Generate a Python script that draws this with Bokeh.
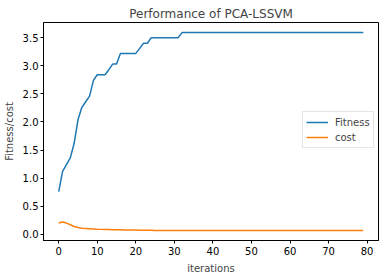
from bokeh.plotting import figure
from bokeh.models import FixedTicker, PrintfTickFormatter, Range1d, Legend, LegendItem
from bokeh.embed import file_html
from bokeh.resources import INLINE

iterations = list(range(80))
fitness = [0.76, 1.12, 1.24, 1.36, 1.62, 2.04, 2.26, 2.36, 2.46, 2.74,
           2.84, 2.84, 2.84, 2.93, 3.03, 3.03, 3.22, 3.22, 3.22, 3.22,
           3.22, 3.31, 3.40, 3.40, 3.50, 3.50, 3.50, 3.50, 3.50, 3.50,
           3.50, 3.50] + [3.59] * 48
cost = [0.20, 0.22, 0.20, 0.17, 0.14, 0.12, 0.11, 0.105, 0.10, 0.095,
        0.09, 0.088, 0.086, 0.085, 0.083, 0.082, 0.08, 0.078, 0.077, 0.076,
        0.075, 0.074, 0.073, 0.072, 0.071] + [0.07] * 55
x_ticks = [0, 10, 20, 30, 40, 50, 60, 70, 80]
y_ticks = [0.0, 0.5, 1.0, 1.5, 2.0, 2.5, 3.0, 3.5]

FONT = "DejaVu Sans"

p = figure(frame_width=335, frame_height=218, output_backend="svg", toolbar_location=None,
           x_range=Range1d(-3.95, 82.95), y_range=Range1d(-0.11, 3.77),
           min_border_left=40, min_border_right=2, min_border_top=22, min_border_bottom=26)

p.title.text = "Performance of PCA-LSSVM"
p.title.align = "center"
p.title.text_font = FONT
p.title.text_font_size = "12px"
p.title.text_font_style = "normal"
p.title.standoff = 4

p.grid.visible = False
p.outline_line_color = "black"
p.outline_line_alpha = 1
p.outline_line_width = 1

for ax in (p.xaxis[0], p.yaxis[0]):
    ax.major_tick_in = 0
    ax.major_tick_out = 3
    ax.minor_tick_line_color = None
    ax.major_label_text_font = FONT
    ax.major_label_text_font_size = "10px"
    ax.major_label_text_color = "black"
    ax.axis_label_text_font = FONT
    ax.axis_label_text_font_size = "10px"
    ax.axis_label_text_font_style = "normal"
    ax.axis_line_color = "black"
    ax.major_tick_line_color = "black"

p.xaxis.ticker = FixedTicker(ticks=x_ticks)
p.yaxis.ticker = FixedTicker(ticks=y_ticks)
p.yaxis.formatter = PrintfTickFormatter(format="%.1f")
p.xaxis.axis_label = "iterations"
p.yaxis.axis_label = "Fitness/cost"
p.xaxis.major_label_standoff = 3
p.yaxis.major_label_standoff = 2
p.xaxis.axis_label_standoff = 5
p.yaxis.axis_label_standoff = 5

r1 = p.line(iterations, fitness, line_color="#1f77b4", line_width=1.5)
r2 = p.line(iterations, cost, line_color="#ff7f0e", line_width=1.5)

legend = Legend(items=[LegendItem(label="Fitness", renderers=[r1]),
                       LegendItem(label="cost", renderers=[r2])],
                location=(259, 92), label_text_font=FONT, label_text_font_size="10px",
                glyph_width=22, glyph_height=14, label_height=14, spacing=1,
                padding=3, margin=0, label_standoff=7,
                border_line_color="#cccccc", border_line_width=1,
                background_fill_alpha=0.8)
p.add_layout(legend)

open("out.html", "w").write(file_html(p, INLINE))
